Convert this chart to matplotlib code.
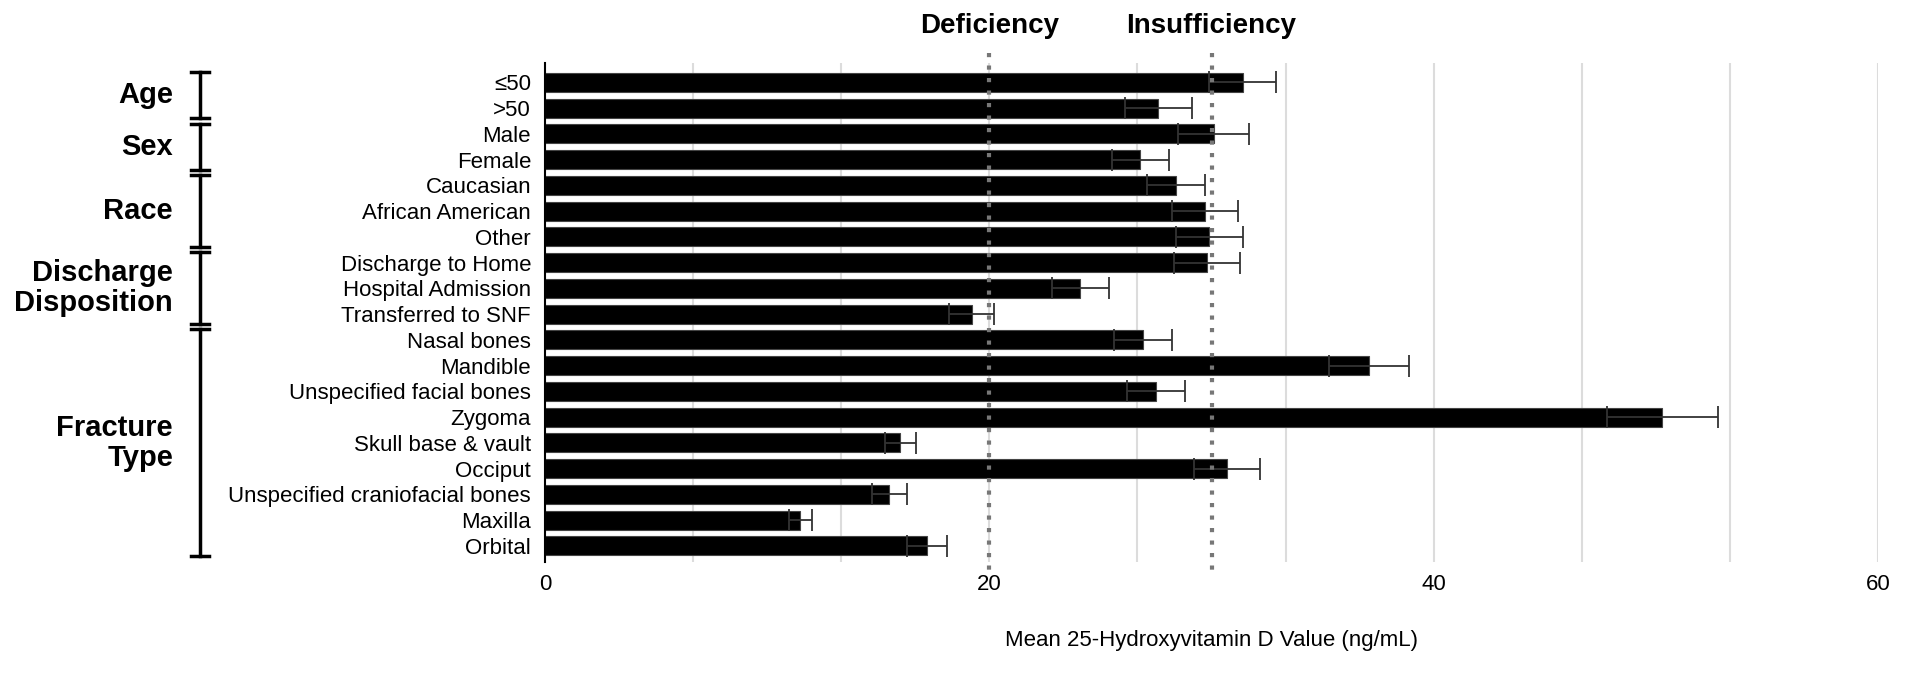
import matplotlib
matplotlib.use("Agg")
import matplotlib.pyplot as plt
import matplotlib.transforms as mtransforms
import numpy as np

plt.rcParams['font.family'] = ['Liberation Sans', 'DejaVu Sans']

# categories (top to bottom)
labels = ["≤50", ">50", "Male", "Female", "Caucasian", "African American", "Other",
          "Discharge to Home", "Hospital Admission", "Transferred to SNF",
          "Nasal bones", "Mandible", "Unspecified facial bones", "Zygoma",
          "Skull base & vault", "Occiput", "Unspecified craniofacial bones",
          "Maxilla", "Orbital"]
means = [31.4, 27.6, 30.1, 26.8, 28.4, 29.7, 29.9, 29.8, 24.1, 19.2,
         26.9, 37.1, 27.5, 50.3, 16.0, 30.7, 15.5, 11.5, 17.2]
errors = [1.5, 1.5, 1.6, 1.3, 1.3, 1.5, 1.5, 1.5, 1.3, 1.0,
          1.3, 1.8, 1.3, 2.5, 0.7, 1.5, 0.8, 0.5, 0.9]

# groups shown with brackets on the left
group_names = ["Age", "Sex", "Race", "Discharge\nDisposition", "Fracture\nType"]
group_sizes = [2, 2, 3, 3, 9]

# reference lines
ref_values = [20, 30]
ref_names = ["Deficiency", "Insufficiency"]

x_ticks = [0, 20, 40, 60]

fig = plt.figure(figsize=(19.09, 6.76), dpi=100)
ax = fig.add_axes([545 / 1909, 1 - 562 / 676, (1878 - 545) / 1909, (562 - 63) / 676])

y = np.arange(len(labels))

# light vertical grid every 20/3
for g in np.arange(1, 10) * 20 / 3:
    ax.axvline(g, color='#dcdcdc', lw=1.5, zorder=0)

ax.barh(y, means, height=0.74, color='black', edgecolor='#444444', linewidth=0.8, zorder=2)
ax.errorbar(means, y, xerr=errors, fmt='none', ecolor='#333333', elinewidth=1.3,
            capsize=8, capthick=1.3, zorder=3)

ax.set_ylim(18.63, -0.75)
ax.set_xlim(0, 60)

# dotted reference lines extending a bit beyond the axes
top_trans = mtransforms.blended_transform_factory(ax.transData, fig.transFigure)
for v, name in zip(ref_values, ref_names):
    ax.vlines(v, -1.15, 19.0, colors='#777777', linestyles=(0, (1, 2)), lw=3,
              clip_on=False, zorder=4)
    ax.text(v, 1 - 26 / 676, name, transform=top_trans,
            ha='center', va='center', fontsize=20, fontweight='bold')

ax.set_yticks(y)
ax.set_yticklabels(labels, fontsize=16)
ax.set_xticks(x_ticks)
ax.set_xticklabels([str(t) for t in x_ticks], fontsize=16)
ax.tick_params(axis='both', length=0)
ax.tick_params(axis='y', pad=10)
ax.tick_params(axis='x', pad=9)
ax.set_xlabel("Mean 25-Hydroxyvitamin D Value (ng/mL)", fontsize=16, labelpad=25)

for side in ['top', 'right', 'bottom']:
    ax.spines[side].set_visible(False)
ax.spines['left'].set_linewidth(1.5)

# group brackets
trans = mtransforms.blended_transform_factory(fig.transFigure, ax.transData)
bx = 200 / 1909
cw = 9 / 1909
lx = 173 / 1909
start = 0
for name, size in zip(group_names, group_sizes):
    top = start - 0.5 + 0.1
    bottom = start + size - 0.5 - 0.1
    ax.plot([bx, bx], [top, bottom], color='black', lw=2.5, transform=trans, clip_on=False)
    for yy in (top, bottom):
        ax.plot([bx - cw, bx + cw], [yy, yy], color='black', lw=2.5, transform=trans, clip_on=False)
    ax.text(lx, start + (size - 1) / 2, name, transform=trans, ha='right', va='center',
            fontsize=21, fontweight='bold', linespacing=1.1)
    start += size

fig.savefig("out.png", dpi=100)
